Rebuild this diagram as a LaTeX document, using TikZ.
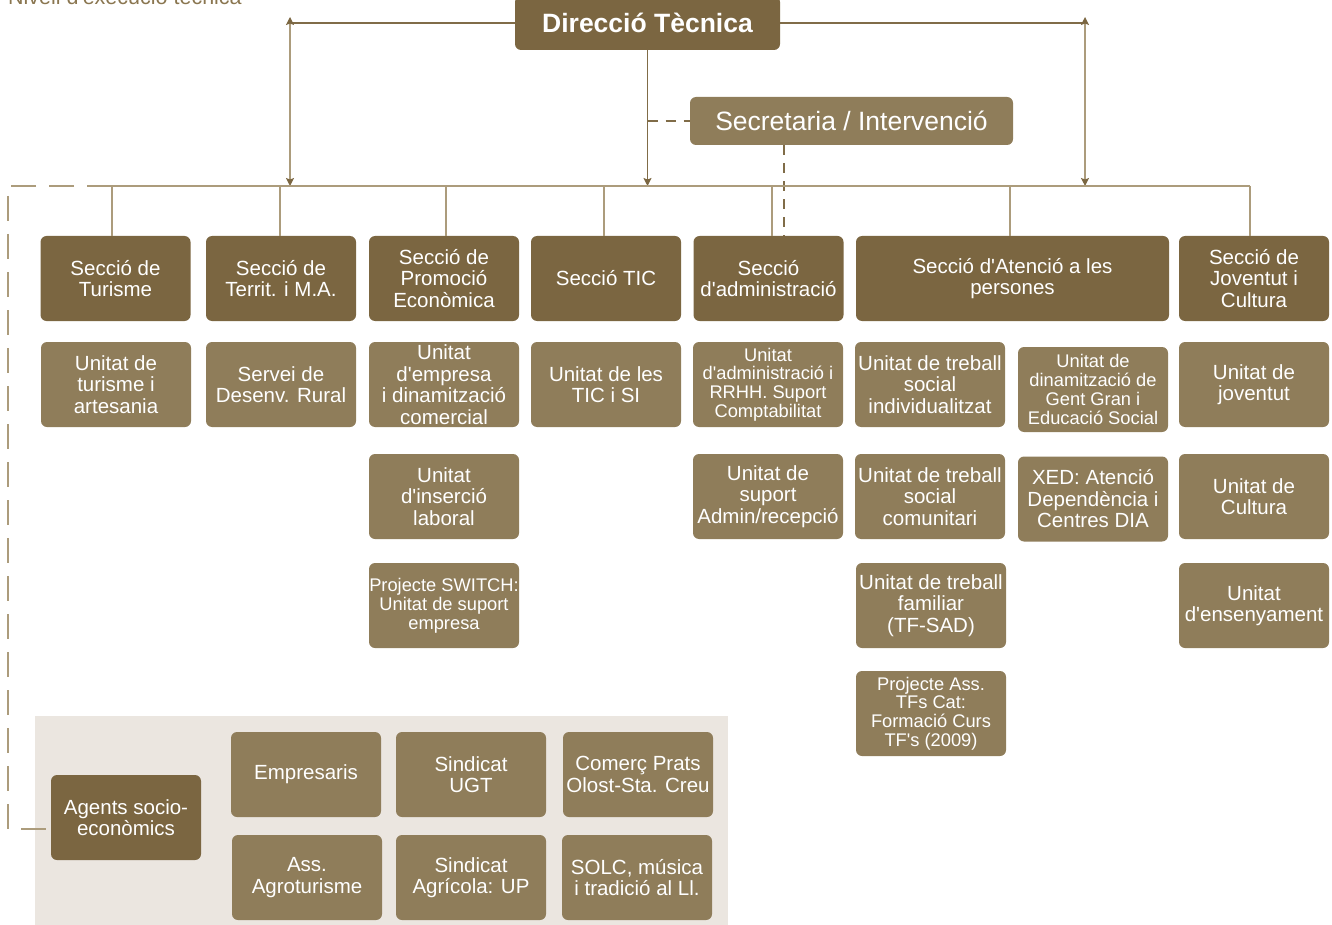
\documentclass[tikz,border=0pt]{standalone}
\usepackage{fontspec}
\newfontfamily\lib{Liberation Sans}
\usetikzlibrary{arrows.meta}
\definecolor{darkb}{RGB}{123,102,65}
\definecolor{lightb}{RGB}{143,125,90}
\definecolor{panelc}{RGB}{235,230,224}
\definecolor{linec}{RGB}{172,156,124}
\definecolor{linedark}{RGB}{128,108,72}
\definecolor{titlec}{RGB}{138,118,80}
\begin{document}
\begin{tikzpicture}[x=1pt,y=-1pt,
  box/.style={rounded corners=6pt, text=white, align=center, inner sep=0pt,
    minimum width=150pt, minimum height=85pt, font=\lib\fontsize{20.5}{21.5}\selectfont},
  sec/.style={box, fill=darkb},
  unit/.style={box, fill=lightb},
  small/.style={font=\lib\fontsize{18.3}{18.8}\selectfont},
  conn/.style={draw=linec, line width=1.3pt},
  connd/.style={draw=linedark, line width=1.3pt},
  tipd/.style={-{Stealth[length=8pt,width=8pt,inset=1.5pt,color=darkb]}},
  arr/.style={conn, {Stealth[length=8pt,width=8pt,inset=1.5pt,color=darkb]}-{Stealth[length=8pt,width=8pt,inset=1.5pt,color=darkb]}},
  dashL/.style={dash pattern=on 25pt off 13pt},
  dashS/.style={dash pattern=on 10pt off 8pt}]
\useasboundingbox (0,0) rectangle (1332,925);

% title
\node[anchor=base west, inner sep=0pt, text=titlec, font=\lib\fontsize{21.5}{22}\selectfont] (title) at (8,5) {Nivell d'execució tècnica};

% top level
\node[sec, minimum width=265pt, minimum height=54pt, font=\lib\bfseries\fontsize{26.5}{28}\selectfont] (dir) at (647.5,23) {Direcció Tècnica};
\node[unit, minimum width=323pt, minimum height=48pt, font=\lib\fontsize{26.5}{28}\selectfont] (secr) at (851.5,121) {Secretaria / Intervenció};

% bus coordinates
\coordinate (busL) at (8,186);
\coordinate (b1) at (112,186);
\coordinate (b2) at (280,186);
\coordinate (b3) at (446,186);
\coordinate (b4) at (604,186);
\coordinate (b5) at (772,186);
\coordinate (bs) at (784,186);
\coordinate (b6) at (1010,186);
\coordinate (b7) at (1250,186);
\coordinate (tl) at (290,23);
\coordinate (tlTop) at (290,17);
\coordinate (tlBot) at (290,186);
\coordinate (tr) at (1085,23);
\coordinate (trTop) at (1085,17);
\coordinate (trBot) at (1085,186);
\coordinate (agIn) at (51,829);

% sections
\node[sec] (tur) at (115.5,278.5) {Secció de\\Turisme};
\node[sec] (ter) at (281,278.5) {Secció de\\Territ. i M.A.};
\node[sec] (pro) at (444,278.5) {Secció de\\Promoció\\Econòmica};
\node[sec] (tic) at (606,278.5) {Secció TIC};
\node[sec] (adm) at (768.5,278.5) {Secció\\d'administració};
\node[sec, minimum width=313pt] (ate) at (1012.5,278.5) {Secció d'Atenció a les\\persones};
\node[sec] (jov) at (1254,278.5) {Secció de\\Joventut i\\Cultura};

% units row 1
\node[unit] (u1) at (116,384.5) {Unitat de\\turisme i\\artesania};
\node[unit] (u2) at (281,384.5) {Servei de\\Desenv. Rural};
\node[unit] (u3) at (444,384.5) {Unitat\\d'empresa\\i dinamització\\comercial};
\node[unit] (u4) at (606,384.5) {Unitat de les\\TIC i SI};
\node[unit, small] (u5) at (768,384.5) {Unitat\\d'administració i\\RRHH. Suport\\Comptabilitat};
\node[unit] (u6) at (930,384.5) {Unitat de treball\\social\\individualitzat};
\node[unit, small] (u7) at (1093,389.5) {Unitat de\\dinamització de\\Gent Gran i\\Educació Social};
\node[unit] (u8) at (1254,384.5) {Unitat de\\joventut};

% units row 2
\node[unit] (v3) at (444,496.5) {Unitat\\d'inserció\\laboral};
\node[unit] (v5) at (768,496.5) {Unitat de\\suport\\Admin/recepció};
\node[unit] (v6) at (930,496.5) {Unitat de treball\\social\\comunitari};
\node[unit] (v7) at (1093,499) {XED: Atenció\\Dependència i\\Centres DIA};
\node[unit] (v8) at (1254,496.5) {Unitat de\\Cultura};

% units row 3
\node[unit, small] (w3) at (444,605.5) {Projecte SWITCH:\\Unitat de suport\\empresa};
\node[unit] (w6) at (931,605.5) {Unitat de treball\\familiar\\(TF-SAD)};
\node[unit] (w8) at (1254,605.5) {Unitat\\d'ensenyament};

% units row 4
\node[unit, small] (x6) at (931,713.5) {Projecte Ass.\\TFs Cat:\\Formació Curs\\TF's (2009)};

% bottom panel
\fill[panelc] (35,716) rectangle (728,925);
\node[sec] (ag) at (126,817.5) {Agents socio-\\econòmics};
\node[unit] (e1) at (306,774.5) {Empresaris};
\node[unit] (e2) at (471,774.5) {Sindicat\\UGT};
\node[unit] (e3) at (638,774.5) {Comerç Prats\\Olost-Sta. Creu};
\node[unit] (e4) at (307,877.5) {Ass.\\Agroturisme};
\node[unit] (e5) at (471,877.5) {Sindicat\\Agrícola: UP};
\node[unit] (e6) at (637,877.5) {SOLC, música\\i tradició al Ll.};

% connectors
\draw[connd] (dir.west) -- (tl);
\draw[arr] (tlTop) -- (tlBot);
\draw[connd] (dir.east) -- (tr);
\draw[arr] (trTop) -- (trBot);
\draw[connd, tipd] (dir.south) -- (dir.south|-b1);
\draw[connd, dashS] (dir.south|-secr.west) -- (secr.west);
\draw[connd, dashS] (secr.south-|bs) -- (bs|-adm.north);
\draw[conn] (b1) -- (b7);
\draw[conn] (b1) -- (b1|-tur.north);
\draw[conn] (b2) -- (b2|-ter.north);
\draw[conn] (b3) -- (b3|-pro.north);
\draw[conn] (b4) -- (b4|-tic.north);
\draw[conn] (b5) -- (b5|-adm.north);
\draw[conn] (b6) -- (b6|-ate.north);
\draw[conn] (b7) -- (b7|-jov.north);
\draw[conn, dashL] (b1) -- (busL) -- (busL|-agIn) -- (agIn);
\end{tikzpicture}
\end{document}
